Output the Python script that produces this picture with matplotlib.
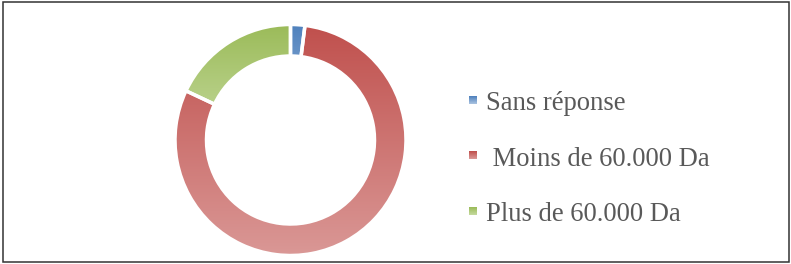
import matplotlib
matplotlib.use("Agg")
import matplotlib.pyplot as plt
import numpy as np
from matplotlib.colors import LinearSegmentedColormap
from matplotlib.patches import Rectangle

# data
labels = ["Sans réponse", " Moins de 60.000 Da", "Plus de 60.000 Da"]
values = [2, 80, 18]
top_colors = ["#4F81BD", "#C0504D", "#9BBB59"]
bottom_colors = ["#A9C2E0", "#DA9896", "#C5DA9E"]

W, H = 791, 264
fig = plt.figure(figsize=(W / 100, H / 100), dpi=100)
ax = fig.add_axes([0, 0, 1, 1])

# donut, centre and radii in pixels (y measured from bottom)
cx, cy, r_out, r_in = 290.5, H - 140, 115.5, 84
wedges, _ = ax.pie(values, center=(cx, cy), radius=r_out, startangle=90,
                   counterclock=False,
                   wedgeprops=dict(width=r_out - r_in, edgecolor="white",
                                   linewidth=2.5))

# vertical gradient fill for each wedge, darker at the top
for w, c_top, c_bot in zip(wedges, top_colors, bottom_colors):
    verts = w.get_path().vertices
    y0, y1 = verts[:, 1].min(), verts[:, 1].max()
    x0, x1 = verts[:, 0].min(), verts[:, 0].max()
    cmap = LinearSegmentedColormap.from_list("g", [c_bot, c_top])
    grad = np.linspace(0, 1, 256).reshape(-1, 1)
    im = ax.imshow(grad, cmap=cmap, origin="lower", aspect="auto",
                   extent=(x0, x1, y0, y1), zorder=1)
    im.set_clip_path(w)
    w.set_facecolor("none")
    w.set_zorder(2)

# legend drawn by hand
for i, (lab, c_top, c_bot) in enumerate(zip(labels, top_colors, bottom_colors)):
    yc = H - (100 + 55.5 * i)
    cmap = LinearSegmentedColormap.from_list("m", [c_bot, c_top])
    im = ax.imshow(np.linspace(0, 1, 16).reshape(-1, 1), cmap=cmap,
                   origin="lower", aspect="auto",
                   extent=(469, 477, yc - 4, yc + 4), zorder=3)
    ax.text(486, yc - 10, lab, fontsize=19.2, family="Liberation Serif",
            color="#595959", va="baseline", ha="left")

# outer frame
ax.add_patch(Rectangle((3, 2), 786, 260, fill=False, edgecolor="#333333",
                       linewidth=1.1, zorder=5))

ax.set_xlim(0, W)
ax.set_ylim(0, H)
ax.set_aspect("equal")
ax.axis("off")

fig.savefig("out.png", dpi=100)
